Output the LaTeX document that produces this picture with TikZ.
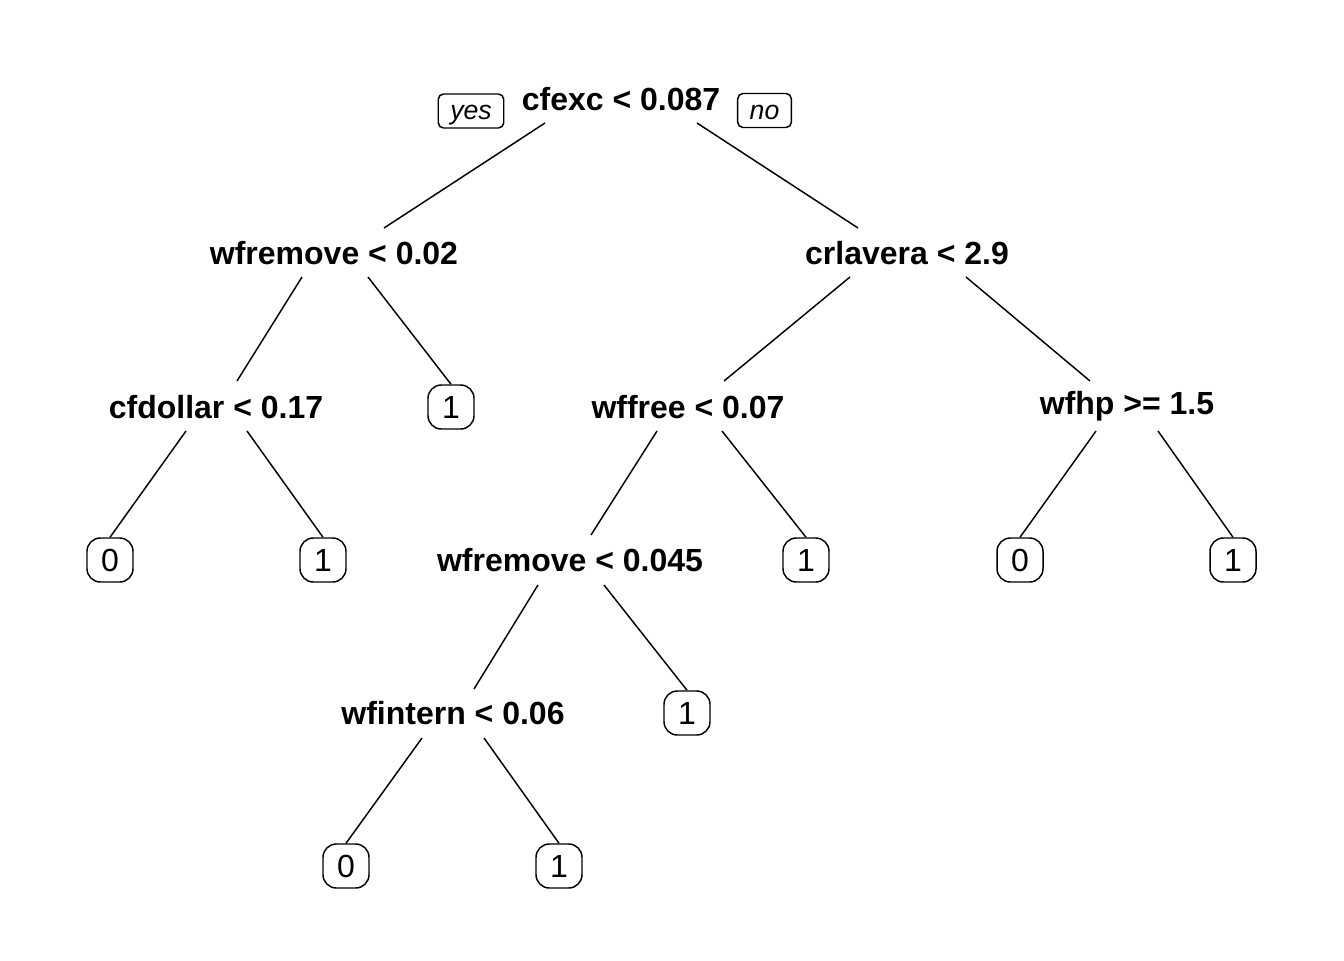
\documentclass[tikz,border=0pt]{standalone}
\usepackage{fontspec}
\setmainfont{Liberation Sans}
\usetikzlibrary{calc}
\tikzset{
  split/.style={anchor=base, inner sep=0pt, font=\bfseries\fontsize{24}{28}\selectfont},
  leaf/.style={draw, line width=1.1pt, rounded corners=10pt, minimum width=34.5pt, minimum height=33pt, inner sep=0pt, font=\fontsize{24}{28}\selectfont},
  yn/.style={draw, line width=1.1pt, rounded corners=4pt, minimum height=25.5pt, text height=13pt, text depth=0pt, inner xsep=9pt, inner ysep=0pt, font=\itshape\fontsize{20}{22}\selectfont},
  edge/.style={line width=1.1pt}
}
\begin{document}
\begin{tikzpicture}[x=0.75pt, y=-0.75pt]
\useasboundingbox (0,0) rectangle (1344,960);
% split nodes
\node[split] (root) at (621,110) {cfexc < 0.087};
\node[yn] (yes) at (471,111) {yes};
\node[yn] (no) at (764.5,110.5) {no};
\node[split] (n2) at (334,264) {wfremove < 0.02};
\node[split] (n3) at (907,264) {crlavera < 2.9};
\node[split] (n4) at (216,418) {cfdollar < 0.17};
\node[split] (n6) at (688,418) {wffree < 0.07};
\node[split] (n7) at (1127,414) {wfhp >= 1.5};
\node[split] (n8) at (570,571) {wfremove < 0.045};
\node[split] (n9) at (453,724) {wfintern < 0.06};
% leaves
\node[leaf] (l5) at (451,407) {1};
\node[leaf] (l8) at (110,560) {0};
\node[leaf] (l9) at (323,560) {1};
\node[leaf] (l13) at (806,560) {1};
\node[leaf] (l14) at (1020,560) {0};
\node[leaf] (l15) at (1233,560) {1};
\node[leaf] (l17) at (687,713) {1};
\node[leaf] (l18) at (346,866) {0};
\node[leaf] (l19) at (559,866) {1};
% edges
\draw[edge] ($(root.base)+(-76,13)$) -- ($(n2.base)+(50,-36)$);
\draw[edge] ($(root.base)+(76,13)$) -- ($(n3.base)+(-49,-36)$);
\draw[edge] ($(n2.base)+(-32,13)$) -- ($(n4.base)+(21,-37)$);
\draw[edge] ($(n2.base)+(34,13)$) -- (l5.north);
\draw[edge] ($(n3.base)+(-57,13)$) -- ($(n6.base)+(36,-37)$);
\draw[edge] ($(n3.base)+(59,13)$) -- ($(n7.base)+(-37,-33)$);
\draw[edge] ($(n4.base)+(-30,13)$) -- (l8.north);
\draw[edge] ($(n4.base)+(31,13)$) -- (l9.north);
\draw[edge] ($(n6.base)+(-31,13)$) -- ($(n8.base)+(21,-36)$);
\draw[edge] ($(n6.base)+(34,13)$) -- (l13.north);
\draw[edge] ($(n7.base)+(-31,17)$) -- (l14.north);
\draw[edge] ($(n7.base)+(31,17)$) -- (l15.north);
\draw[edge] ($(n8.base)+(-32,14)$) -- ($(n9.base)+(21,-35)$);
\draw[edge] ($(n8.base)+(34,14)$) -- (l17.north);
\draw[edge] ($(n9.base)+(-31,14)$) -- (l18.north);
\draw[edge] ($(n9.base)+(31,14)$) -- (l19.north);
\end{tikzpicture}
\end{document}
